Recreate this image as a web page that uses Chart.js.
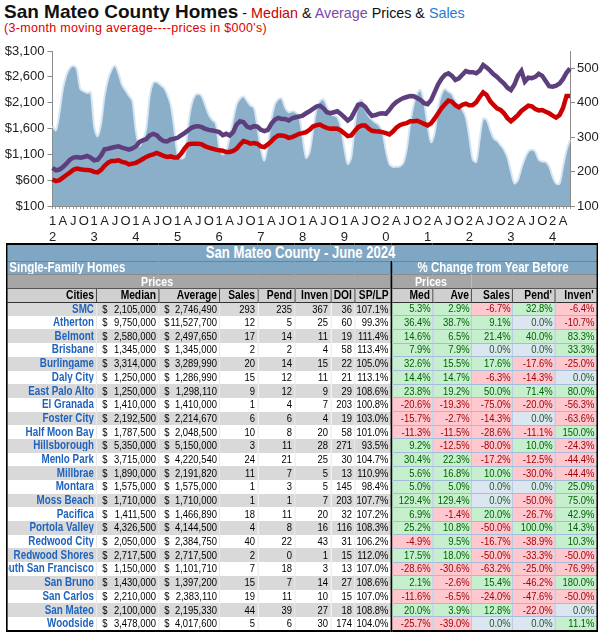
<!DOCTYPE html>
<html><head><meta charset="utf-8">
<script src="https://cdn.jsdelivr.net/npm/chart.js@4.4.1/dist/chart.umd.min.js"></script>
<style>
html,body{margin:0;padding:0;background:#fff;}
body{width:605px;height:634px;position:relative;overflow:hidden;font-family:"Liberation Sans",Arial,sans-serif;}
#title{position:absolute;left:4px;top:2px;white-space:nowrap;line-height:20px;}
#title .main{font-size:19px;font-weight:bold;color:#111;}
#title .rest{font-size:14.3px;color:#111;}
#sub{position:absolute;left:4px;top:21px;font-size:12.5px;letter-spacing:0.3px;line-height:14px;color:#e00000;white-space:nowrap;}
#chartBox{position:absolute;left:0;top:38px;width:605px;height:203px;}
#tblWrap{position:absolute;left:6px;top:243px;width:591px;}
#tbl{border-collapse:collapse;table-layout:fixed;transform-origin:0 0;
 font-family:"Liberation Sans",Arial,sans-serif;font-size:11.5px;border:2px solid #000;}
#tbl tr{height:13.7px;}
#tbl tr.t{height:17px;}
#tbl td,#tbl th{box-sizing:border-box;padding:0 3px 0 0;height:13.7px;line-height:11px;white-space:nowrap;overflow:hidden;text-align:right;}
#tbl tr.t td{height:17px;background:#7fa6c3;color:#fff;font-weight:bold;font-size:16px;line-height:14px;text-align:center;border-bottom:1px solid #5f87a6;}
#tbl tr.s td{background:#7fa6c3;color:#fff;font-weight:bold;font-size:14px;}
#tbl tr.s td.sl{text-align:left;padding-left:2px;}
#tbl tr.s td.sr{text-align:center;}
#tbl tr.p td{background:#a6a6a6;color:#fff;font-weight:bold;font-size:13px;text-align:center;border-top:1px solid #8a8a8a;}
#tbl tr.h th{background:#d0d0d0;color:#000;font-weight:bold;font-size:12.5px;border-left:1px solid #222;border-top:1px solid #555;border-bottom:1px solid #333;}
#tbl tr.h th:first-child{border-left:none;}
#tbl tr.d td{color:#000;border-left:1px solid #e4e4e4;}
#tbl tr.d.g td.l{background:#d9d9d9;}
#tbl tr.d.w td.l{background:#fff;}
#tbl tr.d td.city{color:#1f63bd;font-weight:bold;font-size:12px;}
#tbl tr.d td.city div{display:flex;justify-content:flex-end;overflow:hidden;}
#tbl tr.d td.usd div{display:flex;justify-content:space-between;padding-left:6px;}
#tbl tr.d td.pc{border:1px solid #a5bdd8;padding-right:2px;}
#tbl tr.d td.pos{background:#c6efce;color:#006100;}
#tbl tr.d td.neg{background:#ffc7ce;color:#9c0006;}
#tbl tr.d td.zer{background:#dce6f1;color:#1e5a1e;}
#tbl .sep{border-left:2.5px solid #000 !important;}
</style>
</head><body>
<div id="title"><span class="main">San Mateo County Homes</span><span class="rest"> - <span style="color:#cc0000">Median</span> &amp; <span style="color:#7a4aa8">Average</span> Prices &amp; <span style="color:#1f7ad8">Sales</span></span></div>
<div id="sub">(3-month moving average----prices in $000's)</div>
<div id="chartBox"><canvas id="c" width="605" height="203"></canvas></div>
<div id="tblWrap"><table id="tbl"></table></div>
<script>
// ---------- chart data ----------
const years = [2012,2013,2014,2015,2016,2017,2018,2019,2020,2021,2022,2023,2024];
const monthsInLastYear = 6;
const quarterLetters = ['A','J','O']; // Apr, Jul, Oct
const priceTicks = [100,600,1100,1600,2100,2600,3100];
const salesTicks = [100,150,200,250,300,350,400,450,500,550];

// Median price, 3-month moving average, $000's (Jan 2012 - Jun 2024)
const medianPrice = [
 613,580,600,650,700,747,800,824,810,800,795,790,
 760,750,800,880,940,970,972,985,955,940,905,920,
 935,970,1010,1050,1080,1100,1126,1100,1070,1050,1060,1040,
 1040,1110,1210,1290,1305,1305,1305,1292,1255,1230,1210,1190,
 1177,1170,1145,1145,1164,1209,1292,1356,1337,1305,1318,1305,
 1254,1241,1292,1350,1420,1465,1465,1452,1420,1433,1465,1497,
 1510,1530,1574,1638,1664,1677,1638,1613,1594,1600,1594,1562,
 1510,1452,1465,1549,1626,1660,1660,1600,1555,1545,1540,1530,
 1510,1485,1540,1615,1665,1690,1705,1740,1740,1750,1720,1690,
 1660,1700,1790,1890,1990,2070,2140,2120,2050,2010,2060,2080,
 2050,2055,2110,2210,2300,2250,2130,2055,1991,1959,1894,1800,
 1740,1798,1860,1939,1990,2042,2030,1978,1950,1959,1926,1894,
 1849,1811,1862,2000,2230,2229
];
// Average price, 3-month moving average, $000's
const averagePrice = [
 837,792,805,856,920,997,1036,1049,1036,1049,1068,1036,
 985,997,1080,1196,1209,1228,1241,1254,1228,1209,1190,1215,
 1254,1337,1369,1395,1465,1497,1472,1401,1356,1350,1388,1401,
 1420,1465,1510,1562,1613,1638,1645,1626,1594,1574,1562,1549,
 1530,1470,1497,1465,1530,1677,1741,1722,1638,1613,1645,1638,
 1574,1549,1574,1690,1767,1805,1786,1786,1754,1799,1818,1831,
 1850,1895,1933,1978,2023,2042,1991,1914,1895,1914,1933,1882,
 1818,1754,1805,1933,2060,2070,2020,1920,1845,1860,1885,1894,
 1885,1960,2050,2110,2155,2190,2210,2230,2225,2190,2150,2090,
 2070,2150,2300,2450,2560,2640,2668,2620,2540,2570,2640,2710,
 2690,2690,2668,2720,2829,2780,2720,2650,2600,2530,2470,2390,
 2345,2450,2620,2713,2507,2584,2575,2600,2660,2620,2520,2420,
 2410,2430,2470,2560,2680,2760
];
// Sales, 3-month moving average (right axis)
const salesCount = [
 332,320,370,440,480,500,507,497,440,433,428,430,
 330,302,340,420,468,495,507,485,452,436,420,405,
 318,275,290,325,420,458,460,452,444,425,395,330,
 250,238,243,330,393,420,425,418,392,365,350,340,
 272,250,258,300,350,395,412,418,405,392,385,330,
 265,232,280,350,395,410,412,385,372,375,372,360,
 300,240,255,320,380,405,410,390,368,363,358,330,
 270,222,240,330,400,408,380,362,350,342,335,315,
 260,222,214,214,215,225,265,340,395,428,437,400,
 335,285,310,385,425,440,432,425,405,392,380,358,
 300,235,228,295,354,350,322,297,289,277,263,240,
 200,166,175,209,238,258,263,258,234,229,228,215,
 185,165,165,215,262,292
];

// categories: one per month
const categories = [];
years.forEach((y, yi) => {
  const n = (yi === years.length - 1) ? monthsInLastYear : 12;
  for (let m = 0; m < n; m++) categories.push(y + '-' + String(m + 1).padStart(2, '0'));
});

function xTick(idx) {
  const cat = categories[idx];
  if (!cat) return '';
  const y = cat.slice(0, 4), m = parseInt(cat.slice(5), 10) - 1;
  if (m === 0) return [y[2], y[3]];
  if (m % 3 === 0) return quarterLetters[m / 3 - 1];
  return '';
}

const axisFont = {family: '"Liberation Sans", Arial, sans-serif', size: 13};
new Chart(document.getElementById('c'), {
  data: {
    labels: categories,
    datasets: [
      {type: 'line', label: 'Median', data: medianPrice, yAxisID: 'yPrice', borderColor: '#cc0000',
       borderWidth: 4.5, pointRadius: 0, tension: 0, fill: false, order: 1},
      {type: 'line', label: 'Average', data: averagePrice, yAxisID: 'yPrice', borderColor: '#5e3f7e',
       borderWidth: 4.5, pointRadius: 0, tension: 0, fill: false, order: 2},
      {type: 'line', label: 'Sales', data: salesCount, yAxisID: 'ySales', borderColor: 'rgba(214,230,243,0.95)',
       borderWidth: 2, backgroundColor: '#8bafc9', fill: 'start', pointRadius: 0, tension: 0.3, order: 3}
    ]
  },
  options: {
    responsive: false, animation: false,
    layout: {padding: {top: 13, left: 0, right: 0, bottom: 0}},
    plugins: {legend: {display: false}, tooltip: {enabled: false}},
    scales: {
      x: {
        offset: false,
        grid: {display: true, drawOnChartArea: false, tickLength: 3, color: '#9a9a9a'},
        border: {color: '#8a8a8a'},
        ticks: {autoSkip: false, maxRotation: 0, minRotation: 0, padding: 5, font: axisFont, color: '#222',
                callback: (v, i) => xTick(i)},
        afterFit: s => { s.height = 35; }
      },
      yPrice: {
        position: 'left', min: priceTicks[0], max: priceTicks[priceTicks.length - 1],
        afterBuildTicks: s => { s.ticks = priceTicks.map(v => ({value: v})); },
        ticks: {font: axisFont, color: '#222', padding: 3, callback: v => '$' + Number(v).toLocaleString('en-US')},
        grid: {drawOnChartArea: false, tickLength: 5, color: '#8a8a8a'},
        border: {color: '#8a8a8a'},
        afterFit: s => { s.width = 52.5; }
      },
      ySales: {
        position: 'right', min: salesTicks[0], max: salesTicks[salesTicks.length - 1],
        afterBuildTicks: s => { s.ticks = salesTicks.map(v => ({value: v})); },
        ticks: {font: axisFont, color: '#222', padding: 2},
        grid: {drawOnChartArea: false, tickLength: 5, color: '#8a8a8a'},
        border: {color: '#8a8a8a'},
        afterFit: s => { s.width = 35; }
      }
    }
  }
});

// ---------- table data ----------
const reportTitle = 'San Mateo County - June 2024';
const narrow = 0.82; // horizontal condensing of the table text (narrow font look)
const colWidths = [90,62,61,38,37,36,24,37,41,39,41,42,42];
const headers = ['Cities','Median','Average','Sales','Pend','Inven','DOI','SP/LP','Med','Ave','Sales',"Pend'","Inven'"];
const cities = ['SMC','Atherton','Belmont','Brisbane','Burlingame','Daly City','East Palo Alto','El Granada','Foster City','Half Moon Bay','Hillsborough','Menlo Park','Millbrae','Montara','Moss Beach','Pacifica','Portola Valley','Redwood City','Redwood Shores','South San Francisco','San Bruno','San Carlos','San Mateo','Woodside'];
const cityMedian = ['2,105,000','9,750,000','2,580,000','1,345,000','3,314,000','1,250,000','1,250,000','1,410,000','2,192,500','1,787,500','5,350,000','3,715,000','1,890,000','1,575,000','1,710,000','1,411,500','4,326,500','2,050,000','2,717,500','1,150,000','1,430,000','2,210,000','2,100,000','3,478,000'];
const cityAverage = ['2,746,490','11,527,700','2,497,650','1,345,000','3,289,990','1,286,990','1,298,110','1,410,000','2,214,670','2,048,500','5,150,000','4,220,540','2,191,820','1,575,000','1,710,000','1,466,890','4,144,500','2,384,750','2,717,500','1,101,710','1,397,200','2,383,110','2,195,330','4,017,600'];
const citySales = [293,12,17,2,20,15,9,1,6,10,3,24,11,1,1,18,4,40,2,7,15,19,44,5];
const cityPend = [235,5,14,2,14,12,12,4,6,8,11,21,7,3,1,11,8,22,0,18,7,11,39,6];
const cityInven = [367,25,11,4,15,11,9,7,4,20,28,25,5,5,7,20,16,43,1,3,14,10,27,30];
const cityDOI = [36,60,19,58,22,21,29,203,19,58,271,30,13,145,203,32,116,31,15,13,27,15,18,174];
const citySPLP = ['107.1%','99.3%','111.4%','113.4%','105.0%','113.1%','108.6%','100.8%','103.0%','101.0%','93.5%','104.7%','110.9%','98.4%','107.7%','107.2%','108.3%','106.2%','112.0%','107.0%','108.6%','107.0%','108.8%','104.0%'];
const chgMed = ['5.3%','36.4%','14.6%','7.9%','32.6%','14.4%','23.8%','-20.6%','-15.7%','-11.3%','9.2%','30.4%','5.6%','5.0%','129.4%','6.9%','25.2%','-4.9%','17.5%','-28.6%','2.1%','-11.6%','20.0%','-25.7%'];
const chgAve = ['2.9%','38.7%','6.5%','7.9%','15.5%','14.7%','19.2%','-19.3%','-2.7%','-11.5%','-12.5%','22.3%','16.8%','5.0%','129.4%','-1.4%','10.8%','9.5%','18.0%','-30.6%','-2.6%','-6.5%','3.9%','-39.0%'];
const chgSales = ['-6.7%','9.1%','21.4%','0.0%','17.6%','-6.3%','50.0%','-75.0%','-14.3%','-28.6%','-80.0%','-17.2%','10.0%','0.0%','0.0%','20.0%','-50.0%','-16.7%','-50.0%','-63.2%','15.4%','-24.0%','12.8%','0.0%'];
const chgPend = ['32.8%','0.0%','40.0%','0.0%','-17.6%','-14.3%','71.4%','-20.0%','0.0%','-11.1%','10.0%','-12.5%','-30.0%','0.0%','-50.0%','-26.7%','100.0%','-38.9%','-33.3%','-25.0%','-46.2%','-47.6%','-22.0%','0.0%'];
const chgInven = ['-6.4%','-10.7%','83.3%','33.3%','-25.0%','0.0%','80.0%','-56.3%','-63.6%','150.0%','-24.3%','-44.4%','-44.4%','25.0%','75.0%','42.9%','14.3%','10.3%','-50.0%','-76.9%','180.0%','-50.0%','0.0%','11.1%'];

function pcCell(v, first) {
  const n = parseFloat(v);
  const cls = n > 0 ? 'pos' : (n < 0 ? 'neg' : 'zer');
  return `<td class="pc ${cls}${first ? ' sep' : ''}">${v}</td>`;
}
const tbl = document.getElementById('tbl');
const totalW = colWidths.reduce((a, b) => a + b, 0) / narrow;
tbl.style.width = totalW + 'px';
tbl.style.transform = `scaleX(${narrow})`;
let h = '<colgroup>' + colWidths.map(w => `<col style="width:${w / narrow}px">`).join('') + '</colgroup>';
h += `<tr class="t"><td colspan="13">${reportTitle}</td></tr>`;
h += `<tr class="s"><td colspan="8" class="sl">Single-Family Homes</td><td colspan="5" class="sr sep">% Change from Year Before</td></tr>`;
h += `<tr class="p"><td></td><td colspan="2">Prices</td><td colspan="5"></td><td colspan="2" class="sep">Prices</td><td colspan="3"></td></tr>`;
h += '<tr class="h">' + headers.map((t, k) => `<th class="${k === 8 ? 'sep' : ''}">${t}</th>`).join('') + '</tr>';
cities.forEach((c, i) => {
  const g = i % 2 === 0 ? 'g' : 'w';
  h += `<tr class="d ${g}">` +
    `<td class="l city"><div>${c}</div></td>` +
    `<td class="l usd"><div><span>$</span><span>${cityMedian[i]}</span></div></td>` +
    `<td class="l usd"><div><span>$</span><span>${cityAverage[i]}</span></div></td>` +
    `<td class="l">${citySales[i]}</td><td class="l">${cityPend[i]}</td><td class="l">${cityInven[i]}</td>` +
    `<td class="l">${cityDOI[i]}</td><td class="l">${citySPLP[i]}</td>` +
    pcCell(chgMed[i], true) + pcCell(chgAve[i]) + pcCell(chgSales[i]) + pcCell(chgPend[i]) + pcCell(chgInven[i]) +
    '</tr>';
});
tbl.innerHTML = h;
</script>
</body></html>
